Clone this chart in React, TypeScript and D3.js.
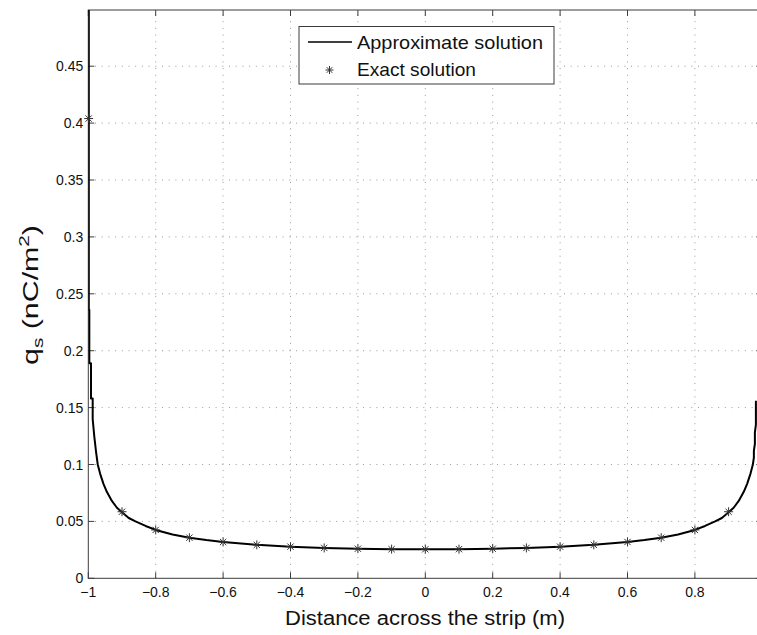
import * as d3 from 'd3';
import React from 'react';

// approximate (moment method) solution
const approxX = [
  -0.9985, -0.9985, -0.997, -0.997, -0.992, -0.992, -0.987, -0.987,
  -0.982, -0.977, -0.972, -0.965, -0.955, -0.945, -0.93, -0.915, -0.9,
  -0.88, -0.86, -0.83, -0.8, -0.75, -0.7, -0.65, -0.6, -0.5, -0.4, -0.3, -0.2, -0.1,
  0,
  0.1, 0.2, 0.3, 0.4, 0.5, 0.6, 0.65, 0.7, 0.75, 0.8, 0.83, 0.86, 0.88,
  0.9, 0.915, 0.93, 0.945, 0.955, 0.965, 0.972, 0.975, 0.975, 0.978, 0.978, 0.981, 0.981
];
const approxY = [
  0.6, 0.236, 0.236, 0.189, 0.189, 0.158, 0.158, 0.14,
  0.124, 0.111, 0.1, 0.092, 0.083, 0.076, 0.068, 0.062, 0.058,
  0.053, 0.05, 0.046, 0.0425, 0.0385, 0.0357, 0.0336, 0.0319, 0.0294, 0.0278, 0.0267, 0.026, 0.0256,
  0.0255,
  0.0256, 0.026, 0.0267, 0.0278, 0.0294, 0.0319, 0.0336, 0.0357, 0.0385, 0.0425, 0.046, 0.05, 0.053,
  0.058, 0.062, 0.068, 0.076, 0.083, 0.092, 0.1, 0.106, 0.112, 0.118, 0.128, 0.135, 0.156
];

// exact solution points
const exactX = [-0.999, -0.9, -0.8, -0.7, -0.6, -0.5, -0.4, -0.3, -0.2, -0.1, 0, 0.1, 0.2, 0.3, 0.4, 0.5, 0.6, 0.7, 0.8, 0.9];
const exactY = [0.404, 0.0585, 0.0425, 0.0357, 0.0319, 0.0294, 0.0278, 0.0267, 0.026, 0.0256, 0.0255, 0.0256, 0.026, 0.0267, 0.0278, 0.0294, 0.0319, 0.0357, 0.0425, 0.0585];

const xTicks = [-1, -0.8, -0.6, -0.4, -0.2, 0, 0.2, 0.4, 0.6, 0.8];
const yTicks = [0, 0.05, 0.1, 0.15, 0.2, 0.25, 0.3, 0.35, 0.4, 0.45];

const App = () => {
  const width = 757;
  const height = 635;
  const left = 88.3;
  const right = 762.3;
  const top = 10;
  const bottom = 578.3;

  const x = d3.scaleLinear().domain([-1, 1]).range([left, right]);
  const y = d3.scaleLinear().domain([0, 0.4994]).range([bottom, top]);

  const line = d3.line<number>()
    .x((d, i) => x(approxX[i]))
    .y((d) => y(d));

  const fmt = (v: number) => (v < 0 ? '\u2212' : '') + String(Math.abs(v));

  const star = (cx: number, cy: number, r: number) =>
    `M${cx - r},${cy}L${cx + r},${cy}M${cx},${cy - r}L${cx},${cy + r}` +
    `M${cx - r * 0.7},${cy - r * 0.7}L${cx + r * 0.7},${cy + r * 0.7}` +
    `M${cx - r * 0.7},${cy + r * 0.7}L${cx + r * 0.7},${cy - r * 0.7}`;

  const font = '"Liberation Sans", Arial, sans-serif';

  return (
    <svg width={width} height={height}
      style={{ position: 'absolute', left: 0, top: 0, background: '#fff', fontFamily: font }}>
      <defs>
        <clipPath id="plot">
          <rect x={left} y={top} width={right - left} height={bottom - top} />
        </clipPath>
      </defs>
      <rect x={0} y={0} width={width} height={height} fill="#fff" />

      {/* grid */}
      <g stroke="#9a9a9a" strokeWidth={1} strokeDasharray="1,5.7">
        {xTicks.filter((t) => t !== -1).map((t) => (
          <line key={'gx' + t} x1={x(t)} x2={x(t)} y1={bottom} y2={top} />
        ))}
        {yTicks.filter((t) => t !== 0).map((t) => (
          <line key={'gy' + t} x1={left} x2={right} y1={y(t)} y2={y(t)} />
        ))}
      </g>

      {/* axes box and ticks */}
      <g stroke="#3c3c3c" strokeWidth={1} fill="none">
        <rect x={left} y={top} width={right - left} height={bottom - top} />
        {xTicks.map((t) => (
          <g key={'tx' + t}>
            <line x1={x(t)} x2={x(t)} y1={bottom} y2={bottom - 6} />
            <line x1={x(t)} x2={x(t)} y1={top} y2={top + 6} />
          </g>
        ))}
        {yTicks.map((t) => (
          <g key={'ty' + t}>
            <line x1={left} x2={left + 6} y1={y(t)} y2={y(t)} />
            <line x1={right} x2={right - 6} y1={y(t)} y2={y(t)} />
          </g>
        ))}
      </g>

      {/* tick labels */}
      <g fontSize={14} fill="#111">
        {xTicks.map((t) => (
          <text key={'lx' + t} x={x(t)} y={bottom + 19} textAnchor="middle">{fmt(t)}</text>
        ))}
        {yTicks.map((t) => (
          <text key={'ly' + t} x={left - 5} y={y(t) + 5} textAnchor="end">{fmt(t)}</text>
        ))}
      </g>

      {/* data */}
      <g clipPath="url(#plot)">
        <path d={line(approxY) || ''} fill="none" stroke="#000" strokeWidth={2} strokeLinejoin="round" />
      </g>
      {exactX.map((v, i) => (
        <path key={'s' + i} d={star(x(v), y(exactY[i]), 4.5)} stroke="#333" strokeWidth={1} fill="none" />
      ))}

      {/* axis titles */}
      <text x={425} y={625} textAnchor="middle" fontSize={20} fill="#111"
        textLength={280} lengthAdjust="spacingAndGlyphs">
        Distance across the strip (m)
      </text>
      <g transform="translate(38,295) rotate(-90)">
        <text x={-70} y={0} fontSize={22} fill="#111" textLength={140} lengthAdjust="spacingAndGlyphs">
          q<tspan fontSize={15} dy={5}>s</tspan><tspan dy={-5}> (nC/m</tspan><tspan fontSize={15} dy={-9}>2</tspan><tspan dy={9}>)</tspan>
        </text>
      </g>

      {/* legend */}
      <g>
        <rect x={299} y={26.5} width={255} height={57.5} fill="#fff" stroke="#3c3c3c" strokeWidth={1} />
        <line x1={308} x2={352} y1={42} y2={42} stroke="#000" strokeWidth={1.5} />
        <text x={357} y={48.5} fontSize={19} fill="#111" textLength={186} lengthAdjust="spacingAndGlyphs">Approximate solution</text>
        <path d={star(329.5, 70, 4)} stroke="#333" strokeWidth={1} fill="none" />
        <text x={357} y={75.5} fontSize={19} fill="#111" textLength={119} lengthAdjust="spacingAndGlyphs">Exact solution</text>
      </g>
    </svg>
  );
};

export default App;
